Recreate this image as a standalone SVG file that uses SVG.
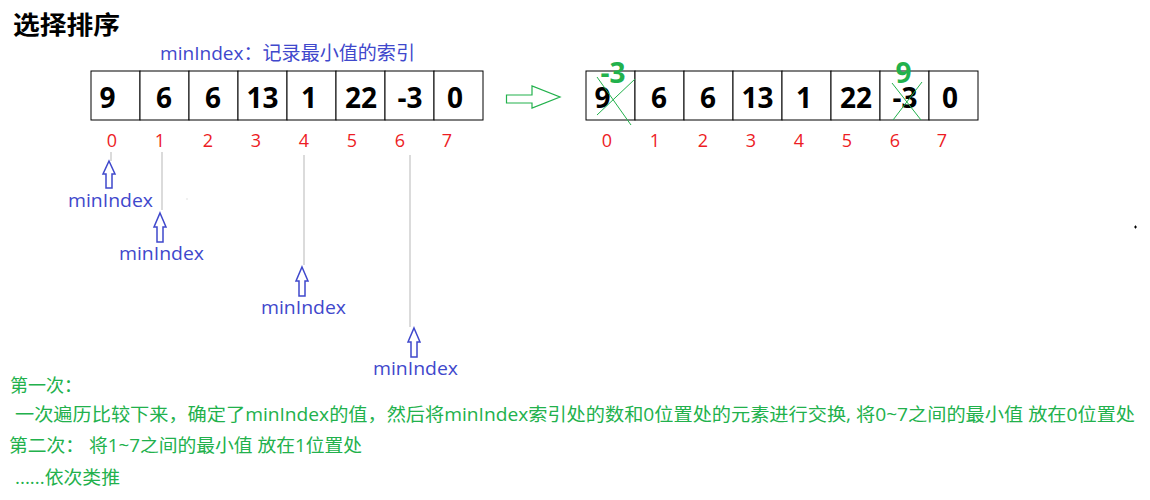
<svg xmlns="http://www.w3.org/2000/svg" width="1150" height="500" viewBox="0 0 1150 500">
<style>
text{font-family:"Open Sans","Noto Sans CJK SC",sans-serif}
.cjk{font-family:"Noto Sans CJK SC",sans-serif}
.cell{fill:#fff;stroke:#000;stroke-width:1}
.num{font-size:28px;font-weight:700;fill:#000;text-anchor:middle}
.gnum{font-size:28px;font-weight:700;fill:#22b14c;text-anchor:middle}
.idx{font-size:18px;fill:#ed1c24;text-anchor:middle}
.blue{font-size:19px;fill:#3f48cc}
.green{font-size:18px;fill:#22b14c}
.gray{stroke:#c3c3c3;stroke-width:1.2;fill:none}
.uparrow{fill:#fff;stroke:#3f48cc;stroke-width:1.5}
.cross{stroke:#22b14c;stroke-width:1;fill:none}
</style>
<rect width="1150" height="500" fill="#fff"/>
<g id="title">
<text class="cjk" x="13" y="34" font-size="25" font-weight="700" fill="#000" textLength="107" lengthAdjust="spacingAndGlyphs">选择排序</text>
</g>
<g id="note">
<text x="160" y="60" class="blue" textLength="255" lengthAdjust="spacingAndGlyphs">minIndex：记录最小值的索引</text>
</g>
<g id="array-before">
<rect class="cell" x="91" y="71" width="49" height="49"/>
<rect class="cell" x="140" y="71" width="49" height="49"/>
<rect class="cell" x="189" y="71" width="49" height="49"/>
<rect class="cell" x="238" y="71" width="49" height="49"/>
<rect class="cell" x="287" y="71" width="49" height="49"/>
<rect class="cell" x="336" y="71" width="49" height="49"/>
<rect class="cell" x="385" y="71" width="49" height="49"/>
<rect class="cell" x="434" y="71" width="49" height="49"/>
<text class="num" x="107.5" y="108">9</text>
<text class="num" x="164" y="108">6</text>
<text class="num" x="213" y="108">6</text>
<text class="num" x="262.5" y="108">13</text>
<text class="num" x="309" y="108">1</text>
<text class="num" x="361" y="108">22</text>
<text class="num" x="410" y="108">-3</text>
<text class="num" x="455" y="108">0</text>
<text class="idx" x="112" y="147">0</text>
<text class="idx" x="160" y="147">1</text>
<text class="idx" x="208" y="147">2</text>
<text class="idx" x="256" y="147">3</text>
<text class="idx" x="304" y="147">4</text>
<text class="idx" x="352" y="147">5</text>
<text class="idx" x="400" y="147">6</text>
<text class="idx" x="447" y="147">7</text>
</g>
<g id="array-after">
<rect class="cell" x="586" y="71" width="49" height="49"/>
<rect class="cell" x="635" y="71" width="49" height="49"/>
<rect class="cell" x="684" y="71" width="49" height="49"/>
<rect class="cell" x="733" y="71" width="49" height="49"/>
<rect class="cell" x="782" y="71" width="49" height="49"/>
<rect class="cell" x="831" y="71" width="49" height="49"/>
<rect class="cell" x="880" y="71" width="49" height="49"/>
<rect class="cell" x="929" y="71" width="49" height="49"/>
<text class="num" x="602.5" y="108">9</text>
<text class="num" x="659" y="108">6</text>
<text class="num" x="708" y="108">6</text>
<text class="num" x="757.5" y="108">13</text>
<text class="num" x="804" y="108">1</text>
<text class="num" x="856" y="108">22</text>
<text class="num" x="905" y="108">-3</text>
<text class="num" x="950" y="108">0</text>
<text class="gnum" x="613" y="83">-3</text>
<text class="gnum" x="903.5" y="83">9</text>
<line class="cross" x1="597" y1="77" x2="631" y2="125"/>
<line class="cross" x1="635" y1="79" x2="597" y2="115"/>
<line class="cross" x1="892" y1="83" x2="921" y2="120"/>
<line class="cross" x1="922" y1="82" x2="893" y2="120"/>
<text class="idx" x="607" y="147">0</text>
<text class="idx" x="655" y="147">1</text>
<text class="idx" x="703" y="147">2</text>
<text class="idx" x="751" y="147">3</text>
<text class="idx" x="799" y="147">4</text>
<text class="idx" x="847" y="147">5</text>
<text class="idx" x="895" y="147">6</text>
<text class="idx" x="942" y="147">7</text>
</g>
<g id="connectors">
<path d="M506.5,95 L532,95 L532,86 L560,97 L532,108 L532,103 L506.5,103 Z" fill="#fff" stroke="#22b14c" stroke-width="1.2"/>
<line class="gray" x1="111" y1="152" x2="111" y2="161"/>
<line class="gray" x1="162" y1="152" x2="162" y2="210"/>
<line class="gray" x1="304" y1="155" x2="304" y2="265"/>
<line class="gray" x1="410" y1="155" x2="410" y2="327"/>
<path class="uparrow" d="M109,161 L115,174 L112,174 L112,188 L106,188 L106,174 L103,174 Z"/>
<path class="uparrow" d="M160,213 L166,227 L163,227 L163,242 L157,242 L157,227 L154,227 Z"/>
<path class="uparrow" d="M302,267 L308,281 L305,281 L305,296 L299,296 L299,281 L296,281 Z"/>
<path class="uparrow" d="M414,328 L420,342 L417,342 L417,357 L411,357 L411,342 L408,342 Z"/>
</g>
<g id="labels">
<text class="blue" x="68" y="207" textLength="85" lengthAdjust="spacingAndGlyphs">minIndex</text>
<text class="blue" x="119" y="260" textLength="85" lengthAdjust="spacingAndGlyphs">minIndex</text>
<text class="blue" x="261" y="314" textLength="85" lengthAdjust="spacingAndGlyphs">minIndex</text>
<text class="blue" x="373" y="375" textLength="85" lengthAdjust="spacingAndGlyphs">minIndex</text>
</g>
<g id="explanation">
<text class="green" x="10" y="392">第一次：</text>
<text class="green" x="15" y="421" textLength="1120" lengthAdjust="spacingAndGlyphs">一次遍历比较下来，确定了minIndex的值，然后将minIndex索引处的数和0位置处的元素进行交换, 将0~7之间的最小值 放在0位置处</text>
<text class="green" x="9" y="452" textLength="353" lengthAdjust="spacingAndGlyphs">第二次： 将1~7之间的最小值 放在1位置处</text>
<text class="green" x="15" y="484" textLength="105" lengthAdjust="spacingAndGlyphs">......依次类推</text>
</g>
<g id="specks">
<rect x="186.5" y="198.5" width="1" height="1" fill="#c3c3c3"/>
<path d="M1134,227 h3 M1135.5,225.5 v3" stroke="#000" stroke-width="1"/>
</g>
</svg>
